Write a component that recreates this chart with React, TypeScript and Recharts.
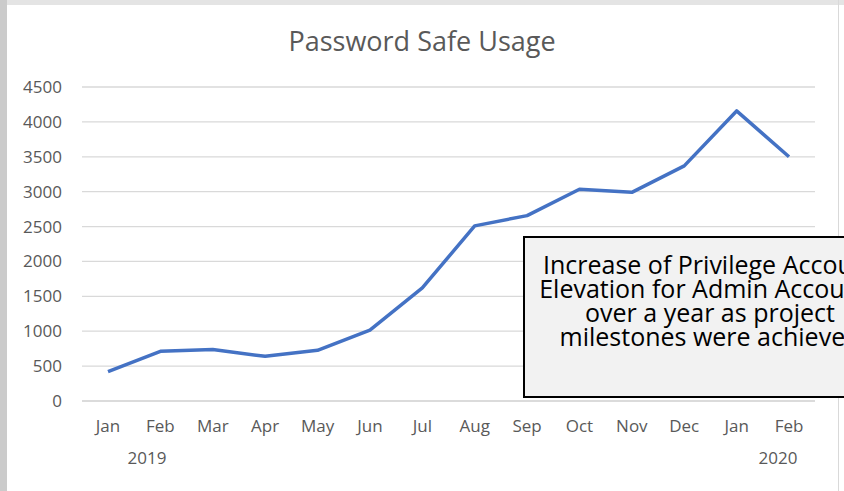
import React from 'react';
import { LineChart, Line, XAxis, YAxis, CartesianGrid } from 'recharts';

const months = ['Jan', 'Feb', 'Mar', 'Apr', 'May', 'Jun', 'Jul', 'Aug', 'Sep', 'Oct', 'Nov', 'Dec', 'Jan', 'Feb'];
const years = ['2019', '', '', '', '', '', '', '', '', '', '', '', '', '2020'];
const usage = [420, 712, 737, 640, 727, 1016, 1620, 2510, 2657, 3034, 2990, 3370, 4157, 3500];
const yTicks = [0, 500, 1000, 1500, 2000, 2500, 3000, 3500, 4000, 4500];
const noteLines = [
  'Increase of Privilege Account',
  'Elevation for Admin Accounts',
  'over a year as project',
  'milestones were achieved',
];

const data = months.map((m, i) => ({ month: m, year: years[i], usage: usage[i] }));

const FONT = '"Open Sans", Lato, sans-serif';
const GREY = '#595959';

// month on the first row, year (only first and last) under it
const MonthTick = (props: any) => {
  const { x, y, payload } = props;
  const i = payload.index;
  const year = years[i];
  const yearDx = i === 0 ? 39 : -11;
  return (
    <g>
      <text x={x} y={y + 23} textAnchor="middle" fill={GREY} fontSize={17} fontFamily={FONT}>
        {payload.value}
      </text>
      {year && (
        <text x={x + yearDx} y={y + 55} textAnchor="middle" fill={GREY} fontSize={17} fontFamily={FONT}>
          {year}
        </text>
      )}
    </g>
  );
};

const App: React.FC = () => {
  return (
    <div
      style={{
        position: 'absolute',
        left: 0,
        top: 0,
        width: 844,
        height: 491,
        background: '#fff',
        overflow: 'hidden',
        fontFamily: FONT,
      }}
    >
      {/* frame bits from the slide around the chart */}
      <div style={{ position: 'absolute', left: 0, top: 0, width: 844, height: 5, background: '#e4e4e4' }} />
      <div style={{ position: 'absolute', left: 0, top: 0, width: 7, height: 491, background: '#cbcbcb' }} />
      <div style={{ position: 'absolute', left: 838, top: 0, width: 1, height: 491, background: '#d9d9d9' }} />

      <div
        style={{
          position: 'absolute',
          left: 0,
          top: 25,
          width: 844,
          textAlign: 'center',
          fontSize: 27,
          lineHeight: '32px',
          color: GREY,
        }}
      >
        Password Safe Usage
      </div>

      <LineChart width={844} height={491} data={data} margin={{ top: 87, right: 29, bottom: 30, left: 0 }}>
        <CartesianGrid vertical={false} stroke="#d9d9d9" strokeWidth={1.3} />
        <XAxis
          dataKey="month"
          height={60}
          interval={0}
          padding={{ left: 26, right: 26 }}
          axisLine={{ stroke: '#d9d9d9', strokeWidth: 1.3 }}
          tickLine={false}
          tick={<MonthTick />}
        />
        <YAxis
          domain={[0, 4500]}
          ticks={yTicks}
          width={82}
          axisLine={false}
          tickLine={false}
          tickMargin={14}
          tick={{ fill: GREY, fontSize: 17, fontFamily: FONT }}
        />
        <Line
          type="linear"
          dataKey="usage"
          stroke="#4472C4"
          strokeWidth={3.5}
          strokeLinejoin="round"
          dot={false}
          activeDot={false}
          isAnimationActive={false}
        />
      </LineChart>

      {/* note box runs past the right edge, as in the source screenshot */}
      <div
        style={{
          position: 'absolute',
          left: 523,
          top: 236,
          width: 374,
          height: 162,
          boxSizing: 'border-box',
          border: '2px solid #000',
          background: '#f2f2f2',
          paddingTop: 14,
          textAlign: 'center',
          fontSize: 25,
          lineHeight: '24px',
          color: '#000',
        }}
      >
        {noteLines.map((l) => (
          <div key={l} style={{ whiteSpace: 'nowrap' }}>
            {l}
          </div>
        ))}
      </div>
    </div>
  );
};

export default App;
